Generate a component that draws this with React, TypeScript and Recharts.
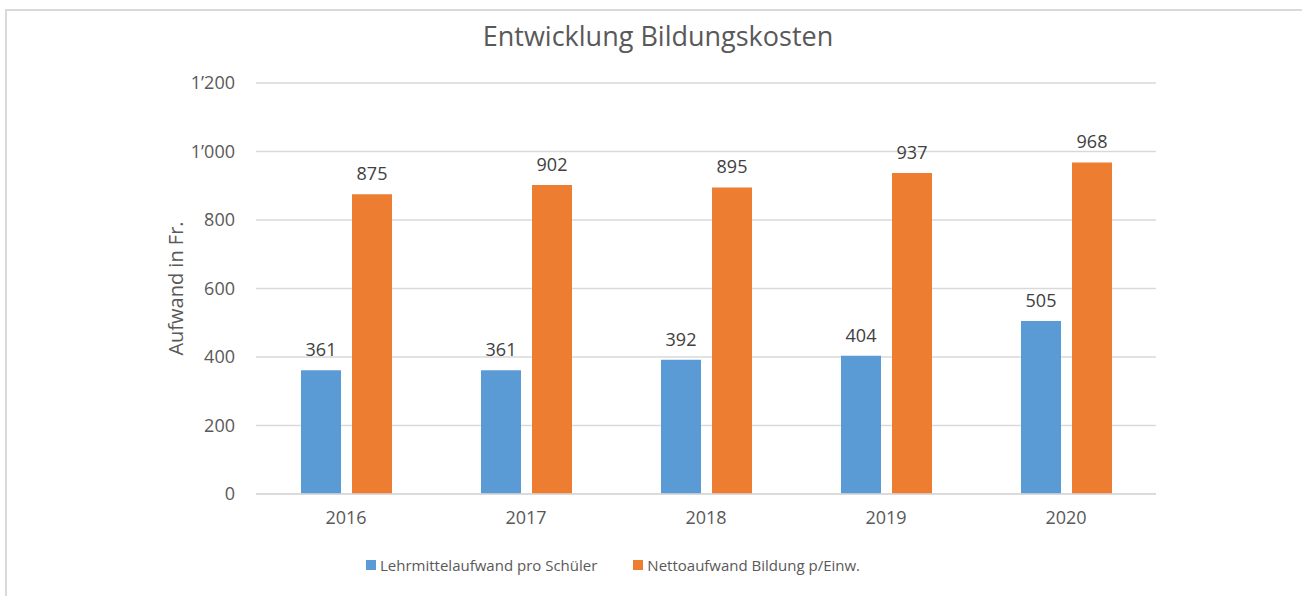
import React from "react";
import { BarChart, Bar, XAxis, YAxis, CartesianGrid, Legend, LabelList, Label } from "recharts";

const years = ["2016", "2017", "2018", "2019", "2020"];
const lehrmittel = [361, 361, 392, 404, 505];
const netto = [875, 902, 895, 937, 968];
const yTicks = [0, 200, 400, 600, 800, 1000, 1200];
const seriesNames = ["Lehrmittelaufwand pro Schüler", "Nettoaufwand Bildung p/Einw."];
const colors = ["#5B9BD5", "#ED7D31"];

const data = years.map((y, i) => ({ year: y, a: lehrmittel[i], b: netto[i] }));

const FONT = "'Open Sans', sans-serif";
const TXT = "#595959";

const fmt = (v: number) => {
  const s = String(v);
  return s.length > 3 ? s.slice(0, s.length - 3) + "\u2019" + s.slice(s.length - 3) : s;
};

const LegendContent = () => (
  <div style={{ display: "flex", fontFamily: FONT, fontSize: 15, color: TXT, whiteSpace: "nowrap" }}>
    {seriesNames.map((n, i) => (
      <div key={n} style={{ display: "flex", alignItems: "center", marginRight: i === 0 ? 36 : 0 }}>
        <span style={{ display: "inline-block", width: 10, height: 10, background: colors[i], marginRight: 4 }} />
        <span>{n}</span>
      </div>
    ))}
  </div>
);

const YLabel = (props: any) => {
  const vb = props.viewBox || {};
  const cx = 175;
  const cy = vb.y + vb.height / 2;
  return (
    <text x={cx} y={cy} transform={`rotate(-90 ${cx} ${cy})`} textAnchor="middle" dominantBaseline="central"
      fill={TXT} fontFamily={FONT} fontSize={20}>
      Aufwand in Fr.
    </text>
  );
};

export default function App() {
  return (
    <div style={{ position: "absolute", left: 0, top: 0, width: 1302, height: 596, overflow: "hidden", background: "#fff" }}>
      <div style={{ position: "absolute", left: 5, top: 9, width: 1400, height: 700, borderLeft: "2px solid #d9d9d9", borderTop: "2px solid #d9d9d9" }} />
      <div style={{ position: "absolute", left: 0, top: 17, width: 1316, textAlign: "center", fontFamily: FONT, fontSize: 27, color: TXT }}>
        Entwicklung Bildungskosten
      </div>
      <div style={{ position: "absolute", left: 0, top: 0 }}>
        <BarChart width={1302} height={596} data={data} margin={{ top: 83, right: 146, bottom: 72, left: 166 }}
          barSize={40} barGap={11}>
          <CartesianGrid vertical={false} stroke="#d9d9d9" strokeWidth={1.5} />
          <XAxis dataKey="year" axisLine={{ stroke: "#d9d9d9", strokeWidth: 1.5 }} tickLine={false} tickSize={0} tickMargin={17}
            tick={{ fill: TXT, fontFamily: FONT, fontSize: 18 }} height={30} />
          <YAxis domain={[0, 1200]} ticks={yTicks} tickFormatter={fmt} axisLine={false} tickLine={false} tickSize={0}
            tickMargin={21} width={90} tick={{ fill: TXT, fontFamily: FONT, fontSize: 18 }}>
            <Label content={<YLabel />} />
          </YAxis>
          <Legend layout="horizontal" verticalAlign="middle" align="center" content={<LegendContent />}
            wrapperStyle={{ left: 366, top: 555, width: "auto", height: "auto", bottom: "auto", right: "auto" }} />
          <Bar dataKey="a" name={seriesNames[0]} fill={colors[0]} isAnimationActive={false}>
            <LabelList dataKey="a" position="top" offset={14} fill="#404040" fontFamily={FONT} fontSize={18} />
          </Bar>
          <Bar dataKey="b" name={seriesNames[1]} fill={colors[1]} isAnimationActive={false}>
            <LabelList dataKey="b" position="top" offset={14} fill="#404040" fontFamily={FONT} fontSize={18} />
          </Bar>
        </BarChart>
      </div>
    </div>
  );
}
